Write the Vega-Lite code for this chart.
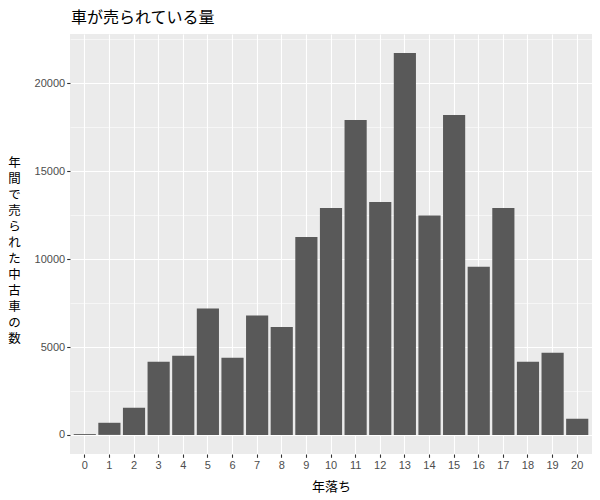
{
  "$schema": "https://vega.github.io/schema/vega-lite/v6.json",
  "autosize": {"type": "none"},
  "padding": {"left": 70, "top": 34, "right": 8, "bottom": 46},
  "width": 522,
  "height": 420,
  "background": "white",
  "title": {
    "text": "車が売られている量",
    "anchor": "start",
    "frame": "group",
    "font": "Noto Sans CJK JP",
    "fontSize": 16,
    "fontWeight": "normal",
    "color": "black",
    "baseline": "alphabetic",
    "offset": -5,
    "dx": 1
  },
  "data": {
    "values": [
      {"age": 0, "count": 50},
      {"age": 1, "count": 690},
      {"age": 2, "count": 1540},
      {"age": 3, "count": 4165},
      {"age": 4, "count": 4500},
      {"age": 5, "count": 7190},
      {"age": 6, "count": 4390},
      {"age": 7, "count": 6790},
      {"age": 8, "count": 6140},
      {"age": 9, "count": 11260},
      {"age": 10, "count": 12910},
      {"age": 11, "count": 17915},
      {"age": 12, "count": 13256},
      {"age": 13, "count": 21722},
      {"age": 14, "count": 12478},
      {"age": 15, "count": 18200},
      {"age": 16, "count": 9563},
      {"age": 17, "count": 12915},
      {"age": 18, "count": 4165},
      {"age": 19, "count": 4676},
      {"age": 20, "count": 926}
    ]
  },
  "mark": {"type": "bar", "color": "#595959"},
  "encoding": {
    "x": {
      "field": "age",
      "type": "ordinal",
      "sort": "ascending",
      "scale": {"paddingInner": 0.1, "paddingOuter": 0.15},
      "axis": {
        "title": "年落ち",
        "titleFont": "Noto Sans CJK JP",
        "titleFontSize": 13,
        "titleFontWeight": "normal",
        "titleColor": "black",
        "titlePadding": 10,
        "labelAngle": 0,
        "labelFont": "Liberation Sans",
        "labelFontSize": 11,
        "labelColor": "#4D4D4D",
        "labelPadding": 2,
        "tickColor": "#333333",
        "tickSize": 3.3,
        "tickWidth": 1.1,
        "domain": false,
        "grid": true,
        "gridColor": "white",
        "gridWidth": 1.1,
        "bandPosition": 0.5
      }
    },
    "y": {
      "field": "count",
      "type": "quantitative",
      "scale": {"domain": [-1086, 22808], "nice": false, "zero": false},
      "axis": {
        "title": ["年", "間", "で", "売", "ら", "れ", "た", "中", "古", "車", "の", "数"],
        "titleFont": "Noto Sans CJK JP",
        "titleFontSize": 12.5,
        "titleFontWeight": "normal",
        "titleColor": "black",
        "titleAngle": 0,
        "titleAlign": "center",
        "titleBaseline": "middle",
        "titleLineHeight": 16,
        "titleX": -56,
        "titleY": 128,
        "values": [0, 2500, 5000, 7500, 10000, 12500, 15000, 17500, 20000, 22500],
        "labelExpr": "datum.value % 5000 === 0 ? datum.value : ''",
        "labelFont": "Liberation Sans",
        "labelFontSize": 11,
        "labelColor": "#4D4D4D",
        "labelPadding": 2,
        "tickColor": "#333333",
        "tickSize": 3.3,
        "tickWidth": 1.1,
        "tickOpacity": {"condition": {"test": "datum.value % 5000 === 0", "value": 1}, "value": 0},
        "domain": false,
        "grid": true,
        "gridColor": "white",
        "gridWidth": {"condition": {"test": "datum.value % 5000 === 0", "value": 1.1}, "value": 0.55}
      }
    }
  },
  "config": {
    "view": {"fill": "#EBEBEB", "stroke": null}
  }
}
